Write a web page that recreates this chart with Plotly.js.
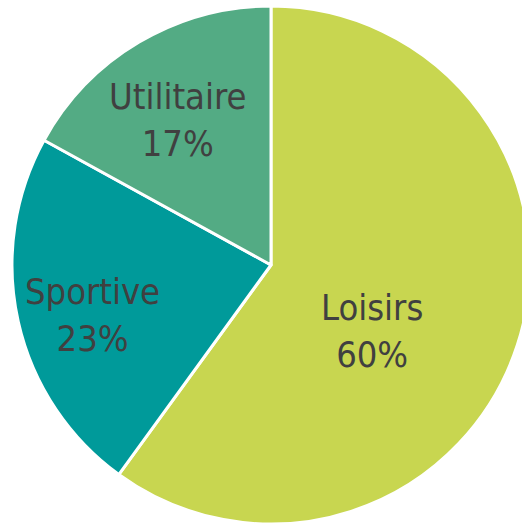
<!DOCTYPE html>
<html><head><meta charset="utf-8">
<script src="https://cdn.plot.ly/plotly-3.0.1.min.js"></script>
<style>html,body{margin:0;padding:0;overflow:hidden;background:#fff;width:522px;height:524px}</style>
</head><body><div id="chart"></div>
<script>
const labels = ["Loisirs", "Sportive", "Utilitaire"];
const values = [60, 23, 17];
const colors = ["#C8D650", "#009A9A", "#53AB84"];

// label placement (pixel centres in the 542x524 layout)
const W = 542, H = 524, TOP = 6;
const labelPx = [[372, 331], [92, 315], [177, 120]];

const total = values.reduce((a, b) => a + b, 0);
const annotations = labels.map((lab, i) => ({
  text: lab + "<br>" + Math.round(values[i] / total * 100) + "%",
  xref: "paper", yref: "paper",
  x: labelPx[i][0] / W,
  y: 1 - (labelPx[i][1] - TOP) / (H - TOP),
  xanchor: "center", yanchor: "middle",
  showarrow: false,
  align: "center",
  font: {family: "DejaVu Sans Condensed, DejaVu Sans", size: 36, color: "#404040"}
}));

Plotly.newPlot("chart", [{
  type: "pie",
  labels: labels,
  values: values,
  sort: false,
  direction: "clockwise",
  rotation: 0,
  textinfo: "none",
  marker: {colors: colors, line: {color: "#ffffff", width: 3}},
  hoverinfo: "none"
}], {
  width: W, height: H,
  margin: {l: 0, r: 0, t: TOP, b: 0, pad: 0},
  showlegend: false,
  paper_bgcolor: "#ffffff",
  annotations: annotations,
  font: {family: "DejaVu Sans Condensed, DejaVu Sans"}
}, {staticPlot: true, displayModeBar: false});
</script></body></html>
